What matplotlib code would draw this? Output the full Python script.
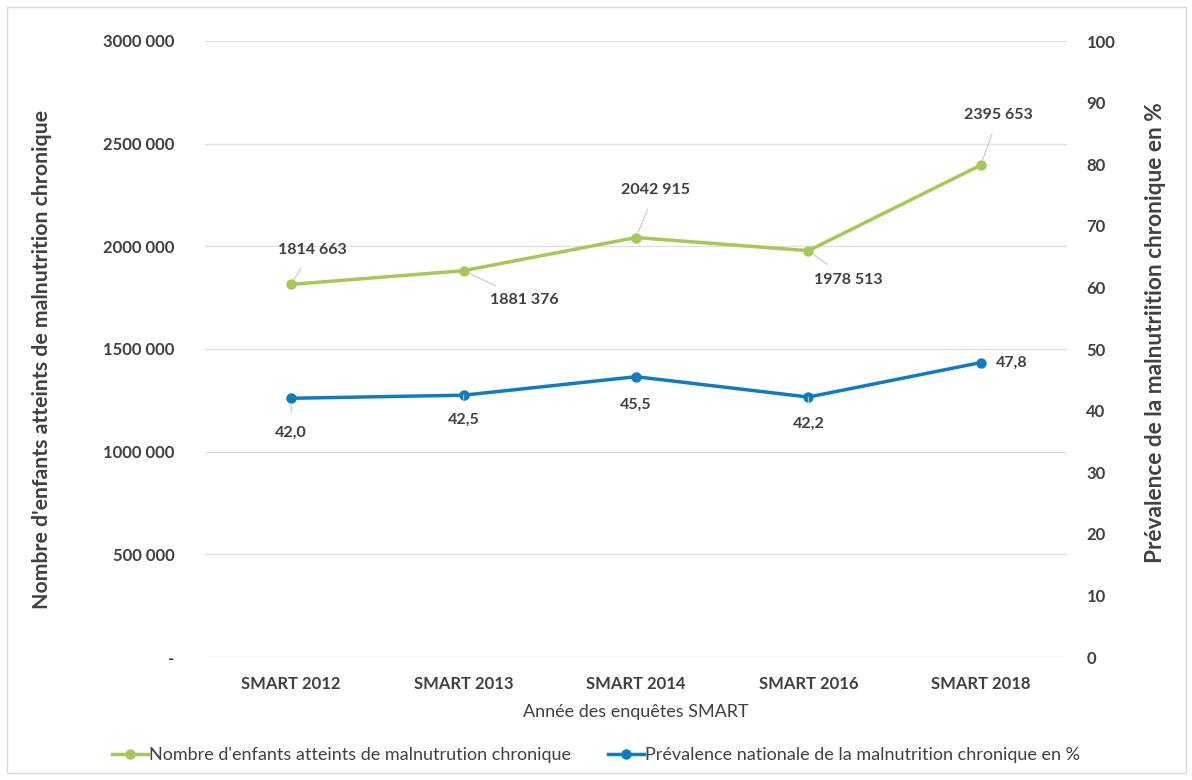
import matplotlib
matplotlib.use("Agg")
import matplotlib.pyplot as plt
from matplotlib.patches import Rectangle
from matplotlib.lines import Line2D

plt.rcParams['font.family'] = ['Lato', 'DejaVu Sans']

# data
surveys = ["SMART 2012", "SMART 2013", "SMART 2014", "SMART 2016", "SMART 2018"]
children = [1814663, 1881376, 2042915, 1978513, 2395653]
prevalence = [42.0, 42.5, 45.5, 42.2, 47.8]

left_ticks = [0, 500000, 1000000, 1500000, 2000000, 2500000, 3000000]
left_tick_labels = ["-", "500 000", "1000 000", "1500 000", "2000 000", "2500 000", "3000 000"]
right_ticks = [0, 10, 20, 30, 40, 50, 60, 70, 80, 90, 100]

# label offsets in points (dx, dy) for data labels
children_offsets = [(15, 25), (44, -21), (14, 34), (29, -21), (13, 36)]
prev_offsets = [(0, -25), (0, -18), (0, -20), (0, -19), (22, 0)]

green = '#a6c956'
blue = '#0e7cc2'
text_col = '#404040'

fig = plt.figure(figsize=(11.92, 7.8), dpi=100)
ax = fig.add_axes([205/1192, 1 - 657/780, 862/1192, 616/780])
ax2 = ax.twinx()

x = list(range(len(surveys)))
ax.plot(x, children, color=green, lw=2.5, marker='o', ms=6.5, zorder=3)
ax2.plot(x, prevalence, color=blue, lw=2.5, marker='o', ms=6.5, zorder=3)

def fmt(v):
    return f"{v // 1000} {v % 1000:03d}"

for xi, v, off in zip(x, children, children_offsets):
    ax.annotate(fmt(v), (xi, v), xytext=off, textcoords='offset points',
                ha='center', va='center', fontsize=11.5, fontweight='bold', color=text_col,
                arrowprops=dict(arrowstyle='-', color='#c8c8c8', lw=0.8, shrinkA=7, shrinkB=4))

for i, (xi, v, off) in enumerate(zip(x, prevalence, prev_offsets)):
    lbl = f"{v:.1f}".replace('.', ',')
    props = None if i == len(x) - 1 else dict(arrowstyle='-', color='#c8c8c8', lw=0.8, shrinkA=8, shrinkB=4)
    ax2.annotate(lbl, (xi, v), xytext=off, textcoords='offset points',
                 ha='center', va='center', fontsize=11.5, fontweight='bold', color=text_col,
                 arrowprops=props)

ax.set_xlim(-0.5, len(surveys) - 0.5)
ax.set_ylim(0, 3000000)
ax2.set_ylim(0, 100)
ax.set_yticks(left_ticks)
ax.set_yticklabels(left_tick_labels)
ax2.set_yticks(right_ticks)
ax.set_xticks(x)
ax.set_xticklabels(surveys)

ax.grid(axis='y', color='#dedede', lw=0.9)
ax.set_axisbelow(True)
for a in (ax, ax2):
    for s in a.spines.values():
        s.set_visible(False)
    a.tick_params(length=0, colors=text_col, labelsize=12)

ax.tick_params(axis='y', pad=22)
ax2.tick_params(axis='y', pad=14)
ax.tick_params(axis='x', pad=14)
for t in ax.get_yticklabels() + ax2.get_yticklabels() + ax.get_xticklabels():
    t.set_fontweight('bold')

ax.set_ylabel("Nombre d'enfants atteints de malnutrition chronique", fontsize=15.3,
              fontweight='bold', color=text_col)
ax.yaxis.set_label_coords(-0.178, 0.483)
ax2.set_ylabel("Prévalence de la malnutriition chronique en %", fontsize=16.3,
               fontweight='bold', color=text_col)
ax2.yaxis.set_label_coords(1.091, 0.527)
ax.set_xlabel("Année des enquêtes SMART", fontsize=13, color=text_col)
ax.xaxis.set_label_coords(0.5, -0.076)

handles = [
    Line2D([], [], color=green, lw=2.5, marker='o', ms=6.5),
    Line2D([], [], color=blue, lw=2.5, marker='o', ms=6.5),
]
labels = ["Nombre d'enfants atteints de malnutrution chronique",
          "Prévalence nationale de la malnutrition chronique en %"]
leg = fig.legend(handles, labels, loc='center', bbox_to_anchor=(0.5, 1 - 755/780), ncol=2,
                 frameon=False, fontsize=13, handlelength=2.0, handletextpad=0.1, columnspacing=2.0)
for t in leg.get_texts():
    t.set_color(text_col)

fig.patches.append(Rectangle((7/1192, 7/780), 1179/1192, 766/780, transform=fig.transFigure,
                             fill=False, edgecolor='#d9d9d9', lw=1))

fig.savefig("out.png", dpi=100, facecolor='white')
